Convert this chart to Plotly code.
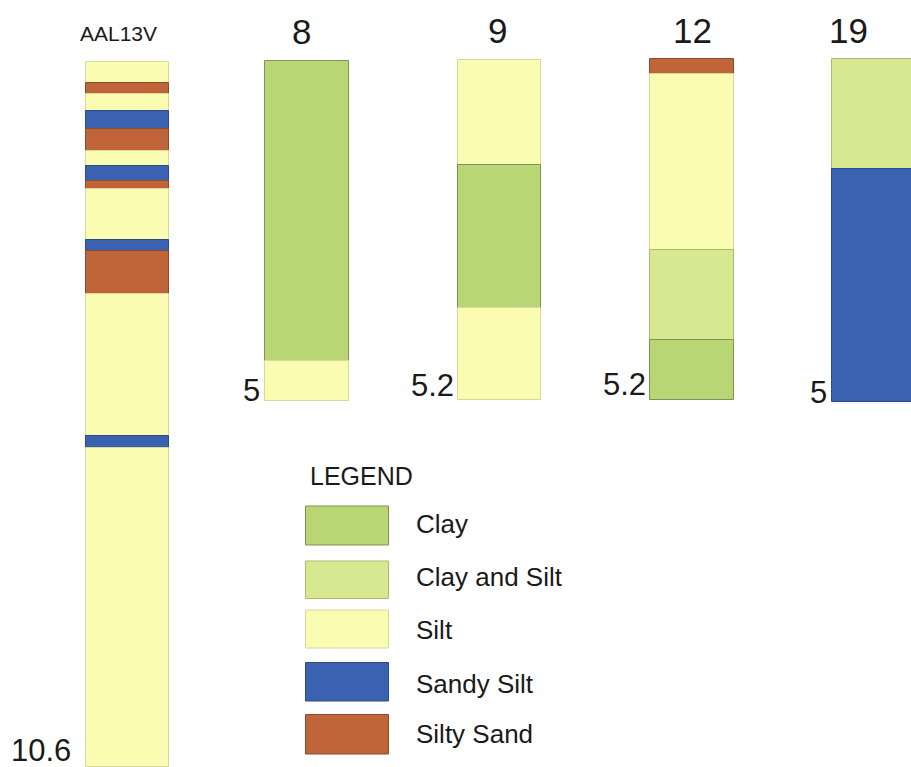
import plotly.graph_objects as go

# ---- data -----------------------------------------------------------------
core_names = ["AAL13V", "8", "9", "12", "19"]
depth_labels = ["10.6", "5", "5.2", "5.2", "5"]

# layer boundaries (m below top) and the lithology of each layer
aal13v_bounds = [0, 0.33, 0.49, 0.75, 1.01, 1.34, 1.57, 1.79, 1.92, 2.68, 2.85, 3.50, 5.62, 5.81, 10.6]
aal13v_litho = ["Silt", "Silty Sand", "Silt", "Sandy Silt", "Silty Sand", "Silt", "Sandy Silt",
                "Silty Sand", "Silt", "Sandy Silt", "Silty Sand", "Silt", "Sandy Silt", "Silt"]
core8_bounds = [0, 4.41, 5.0]
core8_litho = ["Clay", "Silt"]
core9_bounds = [0, 1.61, 3.79, 5.2]
core9_litho = ["Silt", "Clay", "Silt"]
core12_bounds = [0, 0.22, 2.91, 4.28, 5.2]
core12_litho = ["Silty Sand", "Silt", "Clay and Silt", "Clay"]
core19_bounds = [0, 1.60, 5.0]
core19_litho = ["Clay and Silt", "Sandy Silt"]

legend_items = ["Clay", "Clay and Silt", "Silt", "Sandy Silt", "Silty Sand"]

# ---- styling --------------------------------------------------------------
FILL = {
    "Clay": "rgb(184,214,115)",
    "Clay and Silt": "rgb(215,232,145)",
    "Silt": "rgb(250,252,178)",
    "Sandy Silt": "rgb(58,98,176)",
    "Silty Sand": "rgb(192,100,58)",
}
EDGE = {
    "Clay": "rgb(128,145,90)",
    "Clay and Silt": "rgb(170,185,115)",
    "Silt": "rgb(215,215,160)",
    "Sandy Silt": "rgb(45,75,135)",
    "Silty Sand": "rgb(140,75,45)",
}

W, H = 911, 767
SANS = "Liberation Sans, Arial, Helvetica, sans-serif"
INK = "#1a1a1a"

# column placement in page pixels: centre, width, top, bottom
col_cx = [127.5, 307, 499, 692, 874]
col_w = [83, 84, 83, 84, 84]
col_top = [61.5, 61, 59.5, 59.3, 59.3]
col_bot = [767, 400.7, 400, 400, 402.3]
title_x = [118, 301, 497, 692, 848]
title_y = [33, 32, 31, 31, 30]
title_size = [21, 35, 35, 35, 35]
label_x = [73, 262, 456, 648, 829]
label_shift = [-3, -9, -5, -4, -10]

cores = [
    (aal13v_bounds, aal13v_litho),
    (core8_bounds, core8_litho),
    (core9_bounds, core9_litho),
    (core12_bounds, core12_litho),
    (core19_bounds, core19_litho),
]


def py(p):
    """page pixel row -> paper fraction"""
    return 1 - p / H


fig = go.Figure()
annotations = []
layout_axes = {}

for i, (bounds, litho) in enumerate(cores):
    yname = "y" if i == 0 else f"y{i + 1}"
    axkey = "yaxis" if i == 0 else f"yaxis{i + 1}"
    total = bounds[-1]
    scale = (col_bot[i] - col_top[i]) / total  # px per metre for this log
    rng = [(H - col_top[i]) / scale, -col_top[i] / scale]
    ax = dict(range=rng, visible=False, fixedrange=True)
    if i > 0:
        ax["overlaying"] = "y"
    layout_axes[axkey] = ax

    tops = bounds[:-1]
    thick = [b - a for a, b in zip(bounds[:-1], bounds[1:])]
    fig.add_trace(go.Bar(
        x=[col_cx[i]] * len(tops),
        y=thick,
        base=tops,
        width=[col_w[i]] * len(tops),
        marker=dict(color=[FILL[l] for l in litho],
                    line=dict(color=[EDGE[l] for l in litho], width=1)),
        customdata=litho,
        hovertemplate="%{customdata}<extra>" + core_names[i] + "</extra>",
        xaxis="x", yaxis=yname, showlegend=False,
    ))

    annotations.append(dict(
        text=core_names[i], x=title_x[i], y=py(title_y[i]), xref="x", yref="paper",
        xanchor="center", yanchor="middle", showarrow=False,
        font=dict(family=SANS, size=title_size[i], color=INK),
    ))
    annotations.append(dict(
        text=depth_labels[i], x=label_x[i], y=total, xref="x", yref=yname,
        xanchor="right", yanchor="bottom", yshift=label_shift[i], showarrow=False,
        font=dict(family=SANS, size=31, color=INK),
    ))

# legend block
shapes = []
annotations.append(dict(
    text="LEGEND", x=308, y=py(476), xref="x", yref="paper",
    xanchor="left", yanchor="middle", showarrow=False,
    font=dict(family=SANS, size=25, color=INK),
))
sw_top = [506, 561, 610, 662.5, 714.5]
sw_bot = [545, 598.5, 648, 701, 754]
txt_y = [524, 577, 630, 684, 734]
for k, name in enumerate(legend_items):
    shapes.append(dict(
        type="rect", xref="x", yref="paper", x0=305.5, x1=388.5,
        y0=py(sw_bot[k]), y1=py(sw_top[k]),
        fillcolor=FILL[name], line=dict(color=EDGE[name], width=1), layer="above",
    ))
    annotations.append(dict(
        text=name, x=414, y=py(txt_y[k]), xref="x", yref="paper",
        xanchor="left", yanchor="middle", showarrow=False,
        font=dict(family=SANS, size=26, color=INK),
    ))

fig.update_layout(
    width=W, height=H, autosize=False,
    margin=dict(l=0, r=0, t=0, b=0),
    paper_bgcolor="white", plot_bgcolor="white",
    barmode="overlay", bargap=0,
    xaxis=dict(range=[0, W], visible=False, fixedrange=True),
    annotations=annotations, shapes=shapes,
    **layout_axes,
)

fig.write_html("out.html")
